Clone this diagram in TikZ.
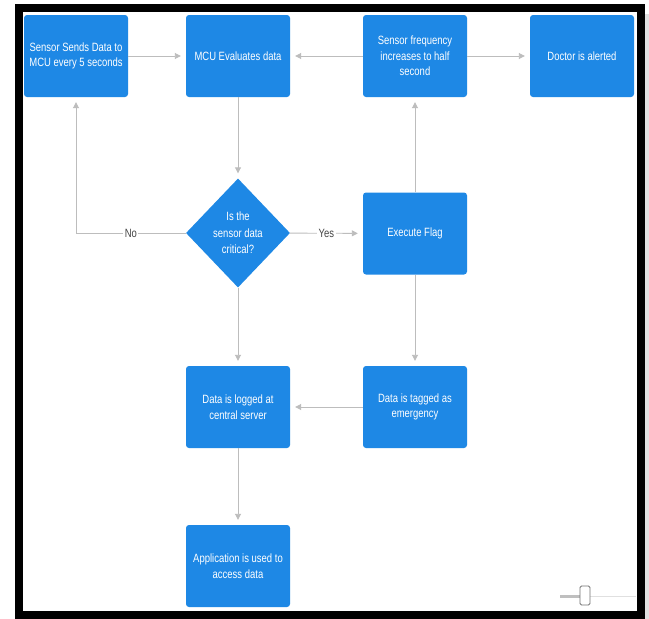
\documentclass[tikz,border=0pt]{standalone}
\usepackage{fontspec}
\newfontfamily\boxfont{Liberation Sans}[FakeStretch=0.79]
\usetikzlibrary{arrows.meta,shapes.geometric}
\definecolor{boxblue}{HTML}{1E88E5}
\definecolor{linegray}{HTML}{BDBDBD}
\definecolor{labgray}{HTML}{444444}
\begin{document}
\begin{tikzpicture}[x=1pt,y=-1pt,
  box/.style={rectangle, rounded corners=3pt, fill=boxblue, minimum width=104pt, minimum height=82pt, inner sep=2pt, text=white, align=center, font=\boxfont\fontsize{12}{15.5}\selectfont},
  dia/.style={diamond, fill=boxblue, minimum width=104pt, minimum height=109pt, inner sep=0pt},
  diatext/.style={text=white, align=center, inner sep=0pt, font=\boxfont\fontsize{12}{16.5}\selectfont},
  conn/.style={draw=linegray, line width=0.9pt, -{Triangle[length=6pt,width=6pt]}, shorten >=5pt},
  lab/.style={fill=white, text=labgray, inner sep=1.5pt, font=\boxfont\fontsize{12}{13}\selectfont}]
\useasboundingbox (0,0) rectangle (649,619);
\fill[white] (0,0) rectangle (649,619);
% frame
\fill[black!12] (645,14) rectangle (649,619);
\draw[line width=8pt] (18.75,8) rectangle (641,614.5);
% nodes
\node[box] (b1) at (76,56) {Sensor Sends Data to\\MCU every 5 seconds};
\node[box] (b2) at (238,56) {MCU Evaluates data};
\node[box] (b3) at (415,56) {Sensor frequency\\increases to half\\second};
\node[box] (b4) at (582,56) {Doctor is alerted};
\node[dia] (d) at (238,233) {};
\node[diatext] (dt) at (d.center) {Is the\\sensor data\\critical?};
\node[box] (ef) at (415,233.5) {Execute Flag};
\node[box] (lg) at (238,407) {Data is logged at\\central server};
\node[box] (tg) at (415,407) {Data is tagged as\\emergency};
\node[box] (ap) at (238,566) {Application is used to\\access data};
\coordinate (nc) at (76,233);
% connectors
\draw[conn] (b1) -- (b2);
\draw[conn] (b3) -- (b2);
\draw[conn] (b3) -- (b4);
\draw[conn] (b2) -- (d);
\draw[conn] (d.west) -- node[lab] {No} (nc) -- (b1);
\draw[conn] (d) -- node[lab] {Yes} (ef);
\draw[conn] (ef) -- (b3);
\draw[conn] (ef) -- (tg);
\draw[conn] (d) -- (lg);
\draw[conn] (tg) -- (lg);
\draw[conn] (lg) -- (ap);
% slider
\draw[line width=3pt, black!25] (560,596) -- (581,596);
\draw[line width=1pt, black!12] (589,596) -- (636,596);
\draw[black!55, fill=white, rounded corners=1.5pt, line width=0.8pt] (580,586) rectangle (590,605);
\end{tikzpicture}
\end{document}
